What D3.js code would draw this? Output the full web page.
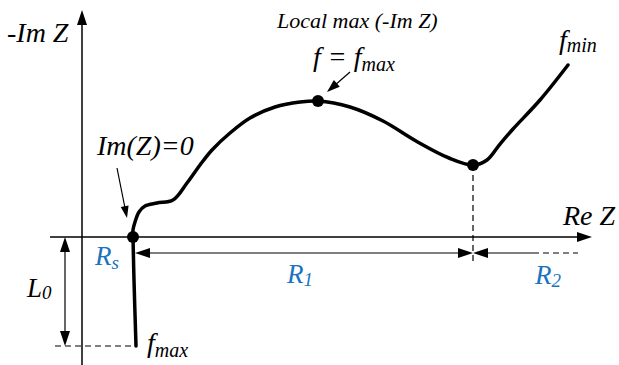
<!DOCTYPE html>
<html>
<head>
<meta charset="utf-8">
<script src="https://cdn.jsdelivr.net/npm/d3@7"></script>
<style>
  body { margin: 0; background: #fff; }
  text { font-family: "Liberation Serif", "Times New Roman", serif; font-style: italic; }
  .blue { fill: #1a73c0; }
</style>
</head>
<body>
<div id="chart"></div>
<script>
// Nyquist-like impedance sketch, values in arbitrary units
var reZ = [10.8, 10.4, 10.2, 10.2, 10.6, 11.4, 12.6, 15, 18.2, 21, 23.6, 26, 29.6, 33.6, 38.6, 43.6, 47.2, 53.6, 60.2, 66.8, 73.4, 78.2, 81, 83.6, 86.2, 91.6, 97.2];
var imZ = [-21.8, -8.6, 0, 1.4, 3.0, 5.0, 6.2, 6.8, 7.4, 10.8, 14.4, 17.4, 20.8, 23.8, 26, 27, 27.2, 26, 23.2, 19.2, 15.8, 14.4, 15.4, 18.6, 21.6, 27.4, 34.4];

var rsPoint = [10.2, 0];
var peakPoint = [47.2, 27.2];
var valleyPoint = [78.2, 14.4];
var tailEnd = [10.8, -21.8];

var svgWidth = 619;
var svgHeight = 365;

var svg = d3.select("#chart")
  .append("svg")
  .attr("width", svgWidth)
  .attr("height", svgHeight);

var x = d3.scaleLinear().domain([0, 100]).range([82, 582]);
var y = d3.scaleLinear().domain([0, 45]).range([237, 12]);

// filled triangle arrow head, tip at (tx, ty), pointing in direction (dx, dy)
function head(tx, ty, dx, dy, len, hw) {
  var n = Math.sqrt(dx * dx + dy * dy);
  var ux = dx / n, uy = dy / n;
  var bx = tx - ux * len, by = ty - uy * len;
  svg.append("path")
    .attr("d", `M${tx},${ty}L${bx - uy * hw},${by + ux * hw}L${bx + uy * hw},${by - ux * hw}Z`)
    .attr("fill", "#000");
}

function line(x1, y1, x2, y2, w, dash) {
  svg.append("line")
    .attr("x1", x1).attr("y1", y1).attr("x2", x2).attr("y2", y2)
    .attr("stroke", "#000")
    .attr("stroke-width", w)
    .attr("stroke-dasharray", dash || null);
}

// axes
line(x(0), svgHeight, x(0), y(44.5), 1.5);
head(x(0), y(45.4), 0, -1, 15, 5);
line(50, y(0), x(99), y(0), 1.5);
head(x(102), y(0), 1, 0, 15, 5);

// L0 bracket
line(55, y(tailEnd[1]), x(tailEnd[0]), y(tailEnd[1]), 1.2, "6,4");
line(65, y(0) + 10, 65, y(tailEnd[1]) - 10, 1.2);
head(65, y(0), 0, -1, 15, 5);
head(65, y(tailEnd[1]), 0, 1, 15, 5);

// R1 and R2 dimension arrows
var dimY = 253;
line(x(rsPoint[0]) + 10, dimY, x(valleyPoint[0]) - 10, dimY, 1.2);
head(x(rsPoint[0]) + 2, dimY, -1, 0, 15, 5);
head(x(valleyPoint[0]), dimY, 1, 0, 15, 5);
head(x(valleyPoint[0]), dimY, -1, 0, 15, 5);
line(x(valleyPoint[0]) + 10, dimY, 533, dimY, 1.2);
line(533, dimY, 578, dimY, 1.2, "6,4");

// dashed drop from valley
line(x(valleyPoint[0]), y(valleyPoint[1]), x(valleyPoint[0]), 265, 1.2, "6,4");

// impedance curve
var pts = reZ.map(function(d, i) { return [d, imZ[i]]; });
svg.append("path")
  .datum(pts)
  .attr("fill", "none")
  .attr("stroke", "#000")
  .attr("stroke-width", 3.5)
  .attr("stroke-linecap", "round")
  .attr("stroke-linejoin", "round")
  .attr("d", d3.line()
    .x(d => x(d[0]))
    .y(d => y(d[1]))
    .curve(d3.curveCatmullRom.alpha(0.5)));

// key points
svg.selectAll("circle.key")
  .data([rsPoint, peakPoint, valleyPoint])
  .enter()
  .append("circle")
  .attr("cx", d => x(d[0]))
  .attr("cy", d => y(d[1]))
  .attr("r", 6)
  .attr("fill", "#000");

// pointer arrows
line(117, 168, 125, 208, 1.2);
head(127, 218, 10, 50, 12, 4);
line(350, 72, 334, 86, 1.2);
head(327, 92, -23, 20, 13, 4.5);

// labels
function label(tx, ty, main, sub, size, subSize, subDy, cls) {
  var t = svg.append("text")
    .attr("x", tx)
    .attr("y", ty)
    .attr("font-size", size)
    .attr("class", cls || null);
  t.append("tspan").text(main);
  if (sub) {
    t.append("tspan")
      .attr("font-size", subSize)
      .attr("dy", subDy)
      .text(sub);
  }
  return t;
}

label(7, 42, "-Im Z", null, 28);
label(563, 225, "Re Z", null, 28);
label(277, 28, "Local max (-Im Z)", null, 22);
label(313, 66, "f = f", "max", 28, 20, 5);
label(559, 49, "f", "min", 28, 20, 3);
label(97, 155, "Im(Z)=0", null, 28);
label(147, 352, "f", "max", 28, 20, 5);
label(27, 297, "L", "0", 27, 19, 2);
label(95, 265, "R", "s", 27, 19, 4, "blue");
label(287, 283, "R", "1", 27, 19, 3, "blue");
label(535, 284, "R", "2", 27, 19, 3, "blue");
</script>
</body>
</html>
